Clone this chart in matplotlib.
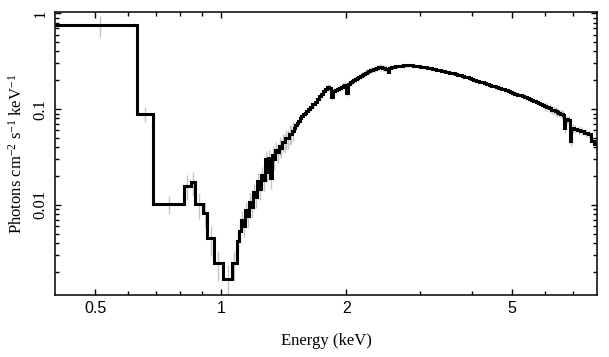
"""Unfolded X-ray spectrum: photon flux vs energy (log-log step plot)."""

import matplotlib
matplotlib.use("Agg")
import matplotlib.pyplot as plt
from matplotlib.ticker import FixedLocator, FixedFormatter, NullFormatter
import numpy as np

# low-energy wide bins (left edges) and their flux
low_edges = [0.40, 0.628, 0.687, 0.817, 0.846, 0.866, 0.904, 0.929, 0.961, 1.013, 1.065]
low_flux = [0.76, 0.089, 0.0102, 0.0159, 0.0172, 0.0102, 0.0083, 0.0045, 0.00247, 0.00168, 0.00247]
low_err = [0.25, 0.18, 0.22, 0.30, 0.28, 0.30, 0.30, 0.35, 0.35, 0.40, 0.35]

# narrow bins above ~1.1 keV (left edges) and their flux
hi_edges = [
    1.092, 1.105, 1.118, 1.131, 1.144, 1.157, 1.170, 1.183, 1.196, 1.209,
    1.222, 1.235, 1.248, 1.261, 1.274, 1.287, 1.300, 1.313, 1.326, 1.339,
    1.352, 1.365, 1.378, 1.391, 1.404, 1.417, 1.430, 1.443, 1.456, 1.469,
    1.482, 1.495, 1.508, 1.521, 1.534, 1.547, 1.560, 1.575, 1.590, 1.605,
    1.620, 1.640, 1.660, 1.680, 1.700, 1.720, 1.740, 1.760, 1.780, 1.800,
    1.820, 1.840, 1.860, 1.880, 1.900, 1.920, 1.940, 1.960, 1.980, 2.000,
    2.020, 2.040, 2.060, 2.080, 2.100, 2.120, 2.140, 2.160, 2.180, 2.200,
    2.220, 2.240, 2.260, 2.280, 2.300, 2.320, 2.340, 2.360, 2.380, 2.400,
    2.420, 2.440, 2.460, 2.480, 2.500, 2.520, 2.540, 2.560, 2.590, 2.620,
    2.650, 2.680, 2.710, 2.740, 2.770, 2.800, 2.830, 2.860, 2.890, 2.920,
    2.950, 2.980, 3.010, 3.050, 3.090, 3.130, 3.170, 3.210, 3.250, 3.290,
    3.330, 3.370, 3.410, 3.450, 3.490, 3.540, 3.590, 3.640, 3.690, 3.740,
    3.790, 3.840, 3.890, 3.940, 3.990, 4.040, 4.100, 4.160, 4.220, 4.280,
    4.340, 4.400, 4.460, 4.520, 4.580, 4.640, 4.700, 4.760, 4.820, 4.880,
    4.940, 5.000, 5.070, 5.140, 5.210, 5.280, 5.350, 5.420, 5.490, 5.560,
    5.630, 5.700, 5.770, 5.840, 5.910, 5.980, 6.050, 6.120, 6.190, 6.260,
    6.330, 6.400, 6.460, 6.520, 6.570, 6.620, 6.660, 6.720, 6.800, 6.880,
    6.940, 7.050, 7.150, 7.300, 7.450, 7.600, 7.750, 7.880,
]
hi_flux = [
    0.0042, 0.0054, 0.0070, 0.0060, 0.0088, 0.0076, 0.0108, 0.0095, 0.0136, 0.0120,
    0.0176, 0.0145, 0.0205, 0.0180, 0.0300, 0.0220, 0.0310, 0.0190, 0.0335, 0.0300,
    0.0375, 0.0355, 0.0415, 0.0395, 0.0455, 0.0450, 0.0495, 0.0495, 0.0545, 0.0555,
    0.0595, 0.0635, 0.0680, 0.0720, 0.0760, 0.0800, 0.0840, 0.0880, 0.0920, 0.0960,
    0.1000, 0.1060, 0.1120, 0.1190, 0.1290, 0.1380, 0.1450, 0.1530, 0.1620, 0.1710,
    0.1650, 0.1340, 0.1560, 0.1600, 0.1630, 0.1680, 0.1700, 0.1760, 0.1800, 0.1460,
    0.1850, 0.1900, 0.1950, 0.2000, 0.2050, 0.2110, 0.2170, 0.2220, 0.2280, 0.2330,
    0.2390, 0.2440, 0.2490, 0.2540, 0.2580, 0.2610, 0.2650, 0.2690, 0.2730, 0.2760,
    0.2750, 0.2720, 0.2690, 0.2650, 0.2600, 0.2440, 0.2690, 0.2730, 0.2770, 0.2800,
    0.2820, 0.2840, 0.2850, 0.2860, 0.2870, 0.2870, 0.2860, 0.2860, 0.2850, 0.2830,
    0.2820, 0.2800, 0.2780, 0.2760, 0.2740, 0.2720, 0.2690, 0.2650, 0.2610, 0.2580,
    0.2550, 0.2520, 0.2490, 0.2460, 0.2440, 0.2400, 0.2370, 0.2330, 0.2290, 0.2250,
    0.2210, 0.2170, 0.2140, 0.2100, 0.2060, 0.2020, 0.1980, 0.1940, 0.1900, 0.1860,
    0.1830, 0.1790, 0.1760, 0.1730, 0.1700, 0.1670, 0.1640, 0.1610, 0.1570, 0.1540,
    0.1510, 0.1480, 0.1450, 0.1420, 0.1390, 0.1360, 0.1330, 0.1300, 0.1270, 0.1240,
    0.1210, 0.1180, 0.1150, 0.1120, 0.1100, 0.1070, 0.1050, 0.1020, 0.0990, 0.0970,
    0.0950, 0.0930, 0.0910, 0.0900, 0.0880, 0.0870, 0.0630, 0.0780, 0.0770, 0.0460,
    0.0630, 0.0620, 0.0600, 0.0590, 0.0570, 0.0550, 0.0470, 0.0430,
]
last_edge = 8.0

# relative error by energy band: (upper energy of band, fractional error)
err_bands = [(1.5, 0.22), (2.5, 0.07), (6.0, 0.03), (9.0, 0.10)]

x_major = [0.5, 1, 2, 5]
x_major_labels = ["0.5", "1", "2", "5"]
x_minor = [0.6, 0.7, 0.8, 0.9, 3, 4, 6, 7]
y_major = [0.01, 0.1, 1]
y_major_labels = ["0.01", "0.1", "1"]

plt.rcParams["mathtext.fontset"] = "custom"
plt.rcParams["mathtext.rm"] = "Liberation Serif"
plt.rcParams["mathtext.it"] = "Liberation Serif:italic"

edges = np.array(low_edges + hi_edges + [last_edge])
flux = np.array(low_flux + hi_flux)
hi_centers = 0.5 * (edges[len(low_flux):-1] + edges[len(low_flux) + 1:])
rel = []
for e in hi_centers:
    for upper, frac in err_bands:
        if e <= upper:
            rel.append(frac)
            break
rel = np.array(low_err + rel)
centers = 0.5 * (edges[:-1] + edges[1:])

fig = plt.figure(figsize=(6.09, 3.57), dpi=100)
ax = fig.add_axes([0.0903, 0.174, 0.890, 0.792])

ax.vlines(centers, flux * (1 - rel), flux * (1 + rel), color="#c4c4c4", lw=1.0, zorder=1)
ax.stairs(flux, edges, color="black", lw=2.2, zorder=2, baseline=None)

ax.set_xscale("log")
ax.set_yscale("log")
ax.set_xlim(0.40, 8.0)
ax.set_ylim(0.00115, 1.03)

ax.xaxis.set_major_locator(FixedLocator(x_major))
ax.xaxis.set_major_formatter(FixedFormatter(x_major_labels))
ax.xaxis.set_minor_locator(FixedLocator(x_minor))
ax.xaxis.set_minor_formatter(NullFormatter())
ax.yaxis.set_major_locator(FixedLocator(y_major))
ax.yaxis.set_major_formatter(FixedFormatter(y_major_labels))
ax.yaxis.set_minor_formatter(NullFormatter())

ax.tick_params(which="both", direction="in", top=True, right=True, width=1.0)
ax.tick_params(which="major", length=4)
ax.tick_params(which="minor", length=3)
ax.tick_params(axis="x", labelsize=11.5, pad=4.5)
ax.tick_params(axis="y", labelsize=12, pad=4.5)
for lab in ax.get_xticklabels():
    lab.set_family("Liberation Sans")
for lab in ax.get_yticklabels():
    lab.set_family("Liberation Serif")
    lab.set_rotation(90)
    lab.set_va("center")
for sp in ax.spines.values():
    sp.set_linewidth(1.1)

ax.set_xlabel("Energy (keV)", family="Liberation Serif", fontsize=12, labelpad=12)
ax.set_ylabel("Photons cm$^{-2}$ s$^{-1}$ keV$^{-1}$", family="Liberation Serif",
              fontsize=12, labelpad=5)

fig.savefig("out.png", dpi=100)
